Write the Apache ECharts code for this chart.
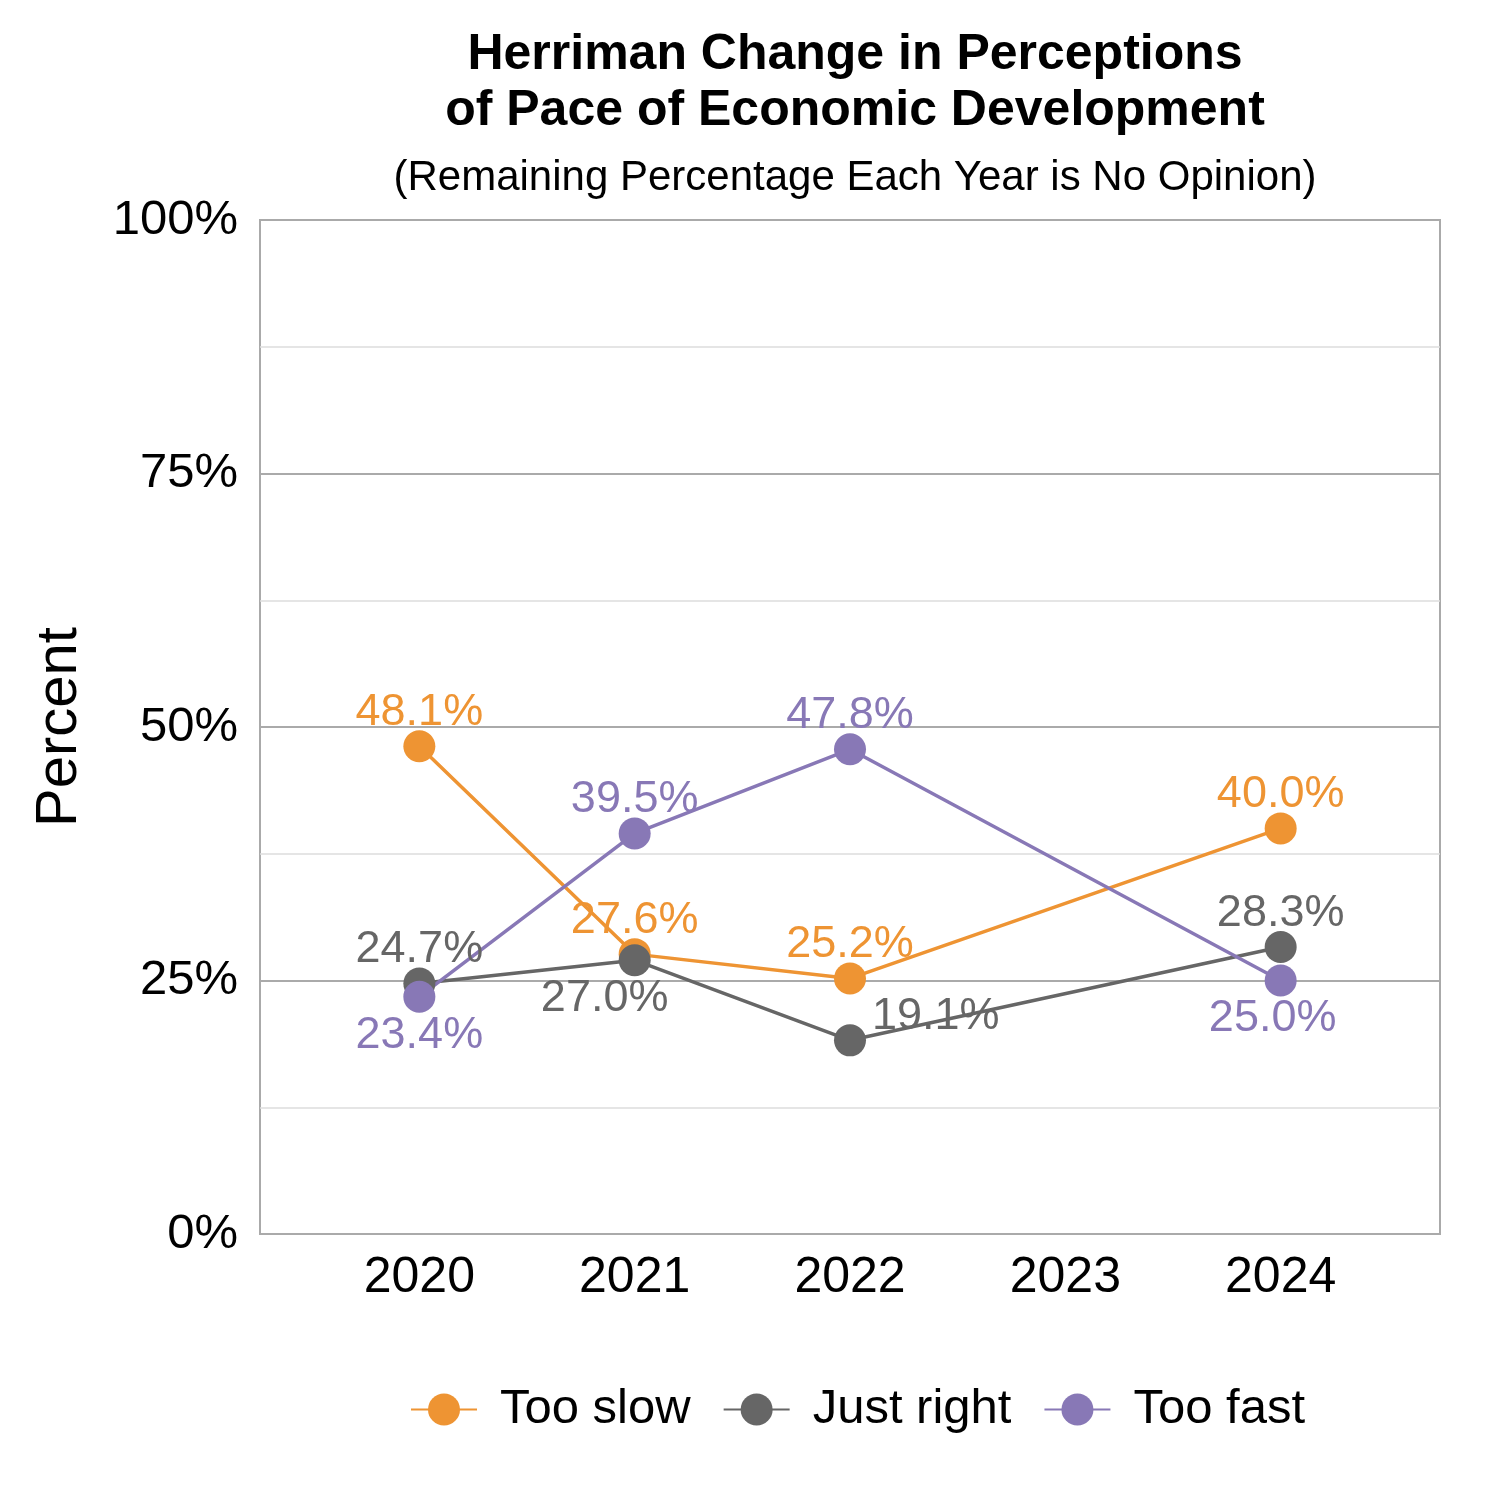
<!DOCTYPE html>
<html><head><meta charset="utf-8">
<script src="https://cdn.jsdelivr.net/npm/echarts@6/dist/echarts.min.js"></script>
<style>html,body{margin:0;padding:0;background:#fff}#c{width:1500px;height:1500px}</style>
</head><body><div id="c"></div>
<script>
const years = [2020, 2021, 2022, 2024];
const tickYears = [2020, 2021, 2022, 2023, 2024];
const tooSlow = [48.1, 27.6, 25.2, 40.0];
const justRight = [24.7, 27.0, 19.1, 28.3];
const tooFast = [23.4, 39.5, 47.8, 25.0];
const yTicks = [0, 25, 50, 75, 100];
const seriesNames = ['Too slow', 'Just right', 'Too fast'];
const colors = ['#EE9433', '#666666', '#8878B6'];

const FONT = '"Liberation Sans", Arial, sans-serif';
const TOP = {position:'top', distance:-5};
const BOT = {position:'bottom', distance:0};
const labelStyles = {
  'Too slow': [TOP, TOP, TOP, TOP],
  'Just right': [TOP, Object.assign({}, BOT, {offset:[-30,0]}), {position:'right', offset:[1,-24]}, TOP],
  'Too fast': [BOT, TOP, TOP, Object.assign({}, BOT, {offset:[-8,0]})]
};
function mk(name, vals, color) {
  return {
    name, type:'line', color,
    symbol:'circle', symbolSize:32,
    lineStyle:{width:3.5, color},
    itemStyle:{color},
    data: vals.map((v,i)=>({value:[years[i], v], label:Object.assign({}, labelStyles[name][i])})),
    label:{show:true, color, fontSize:45, fontFamily:FONT,
      formatter:p=>p.value[1].toFixed(1)+'%'}
  };
}
const chart = echarts.init(document.getElementById('c'));
chart.setOption({
  animation:false,
  backgroundColor:'#fff',
  title:[
    {text:'Herriman Change in Perceptions\nof Pace of Economic Development', left:850, textAlign:'center', top:22,
     textStyle:{fontSize:50, fontWeight:'bold', fontFamily:FONT, color:'#000', lineHeight:56}},
    {text:'(Remaining Percentage Each Year is No Opinion)', left:850, textAlign:'center', top:152,
     textStyle:{fontSize:42, fontWeight:'normal', fontFamily:FONT, color:'#000'}}
  ],
  legend:{bottom:61, left:405, itemWidth:66, itemHeight:40, itemGap:32,
    textStyle:{fontSize:49, fontFamily:FONT, color:'#000', padding:[0,0,0,18]}, data:seriesNames},
  grid:{left:260, right:60, top:220, bottom:266, show:true, borderColor:'#AAAAAA', borderWidth:2},
  xAxis:{type:'value', min:2019.26, max:2024.74,
    axisLine:{show:false}, axisTick:{show:false}, splitLine:{show:false},
    axisLabel:{customValues:tickYears, fontSize:50, fontFamily:FONT, color:'#000', margin:19, formatter:v=>String(v)}},
  yAxis:{type:'value', min:0, max:100, interval:25,
    name:'Percent', nameLocation:'middle', nameRotate:90, nameGap:171,
    nameTextStyle:{fontSize:58, fontFamily:FONT, color:'#000'},
    axisLine:{show:false}, axisTick:{show:false},
    axisLabel:{fontSize:49, fontFamily:FONT, color:'#000', margin:22, formatter:v=>v+'%'},
    splitLine:{show:true, lineStyle:{color:'#AAAAAA', width:2}},
    minorTick:{show:false, splitNumber:2},
    minorSplitLine:{show:true, lineStyle:{color:'#DDDDDD', width:1.5}}},
  series:[mk('Too slow', tooSlow, colors[0]), mk('Just right', justRight, colors[1]), mk('Too fast', tooFast, colors[2])]
});
</script></body></html>
